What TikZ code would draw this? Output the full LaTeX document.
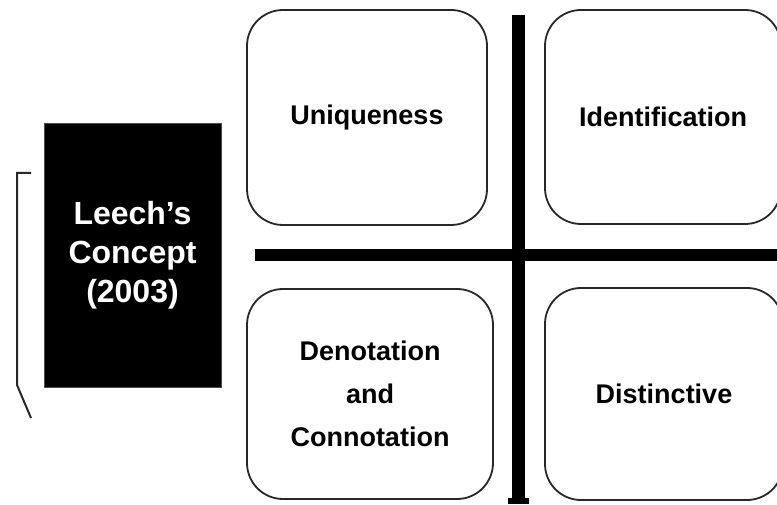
\documentclass[tikz,border=0pt]{standalone}
\usepackage{fontspec}
\setmainfont{Liberation Sans}
\usepackage{tikz}
\usetikzlibrary{arrows.meta,shapes,positioning}
\usepackage{xcolor}
\definecolor{lkframe}{RGB}{40,40,40}
\definecolor{lkbar}{RGB}{0,0,0}
\tikzstyle{quad} = [rectangle, rounded corners=36pt, draw=lkframe, line width=1.8pt, fill=white, align=center, font=\fontsize{27}{43}\selectfont\bfseries]
\tikzstyle{concept} = [rectangle, fill=black, draw=black!70, line width=1pt, text=white, align=center, minimum width=177pt, minimum height=263pt, font=\fontsize{32}{39}\selectfont\bfseries]
\tikzstyle{bar} = [line width=12.5pt, color=lkbar]

\begin{document}
\begin{tikzpicture}[x=1pt, y=1pt]
\useasboundingbox (0,0) rectangle (777,504);
\clip (0,0) rectangle (777,504);

% Concept block on the left
\node[concept] (leech) at (132.5,248.5) {Leech’s\\Concept\\(2003)};

% Bracket beside the concept block
\draw[lkframe, line width=2pt] (31,331) -- (17,331) -- (17,119) -- (31,86);

% Four quadrants
\node[quad, minimum width=240pt, minimum height=215pt] (uniq) at (367,386.5) {Uniqueness};
\node[quad, minimum width=236pt, minimum height=214pt] (ident) at (663,387) {Identification};
\node[quad, minimum width=246pt, minimum height=210pt] (denot) at (370,110) {Denotation\\and\\Connotation};
\node[quad, minimum width=238pt, minimum height=212pt] (dist) at (664,110) {Distinctive};

% Axes between the quadrants
\coordinate (vtop) at (518.5,489);
\coordinate (vbot) at (518.5,0);
\coordinate (hleft) at (255,249);
\coordinate (hright) at (780,249);
\draw[bar] (hleft) -- (hright);
\draw[bar, line width=13pt, -{Rectangle[length=6pt, width=21pt]}] (vtop) -- (vbot);
\end{tikzpicture}
\end{document}
